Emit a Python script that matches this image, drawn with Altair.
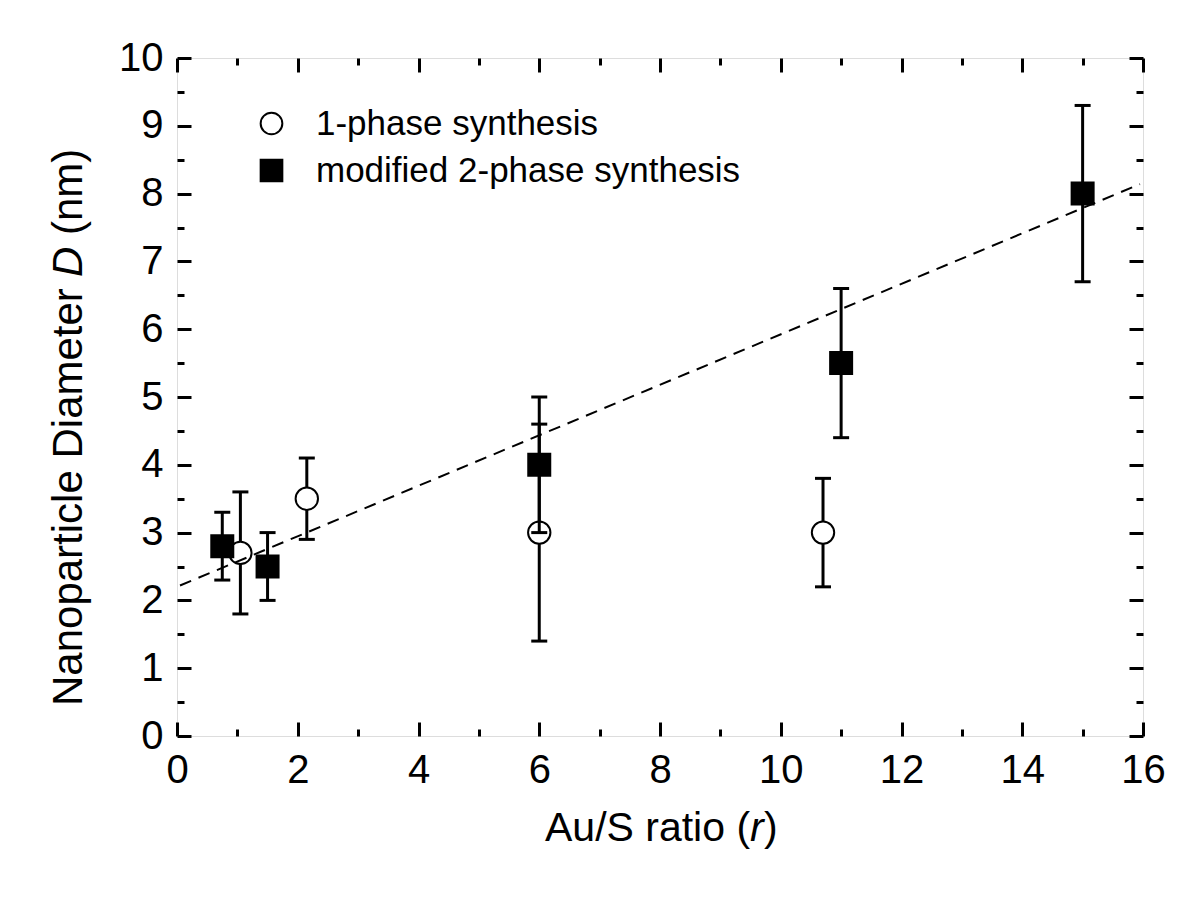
import altair as alt
import pandas as pd

# ---------------- data ----------------
series_names = ["1-phase synthesis", "modified 2-phase synthesis"]

one_x = [1.05, 2.15, 6.0, 10.7]
one_y = [2.7, 3.5, 3.0, 3.0]
one_lo = [1.8, 2.9, 1.4, 2.2]
one_hi = [3.6, 4.1, 4.6, 3.8]

two_x = [0.75, 1.5, 6.0, 11.0, 15.0]
two_y = [2.8, 2.5, 4.0, 5.5, 8.0]
two_lo = [2.3, 2.0, 3.0, 4.4, 6.7]
two_hi = [3.3, 3.0, 5.0, 6.6, 9.3]

fit_x = [0.05, 15.95]
fit_y = [2.22, 8.14]

x_major = [0, 2, 4, 6, 8, 10, 12, 14, 16]
x_minor = [1, 3, 5, 7, 9, 11, 13, 15]
y_major = [0, 1, 2, 3, 4, 5, 6, 7, 8, 9, 10]
y_minor = [0.5, 1.5, 2.5, 3.5, 4.5, 5.5, 6.5, 7.5, 8.5, 9.5]

x_title_parts = ["Au/S ratio (", "r", ")"]
y_title_parts = ["Nanoparticle Diameter", "D", "(nm)"]

# ---------------- layout ----------------
W, H = 966, 678
FONT = "Arial, 'Liberation Sans', Helvetica, sans-serif"

one_df = pd.DataFrame({"x": one_x, "y": one_y, "lo": one_lo, "hi": one_hi,
                       "series": series_names[0]})
two_df = pd.DataFrame({"x": two_x, "y": two_y, "lo": two_lo, "hi": two_hi,
                       "series": series_names[1]})
fit_df = pd.DataFrame({"x": fit_x, "y": fit_y})

xs = alt.Scale(domain=[0, 16], nice=False, zero=False)
ys = alt.Scale(domain=[0, 10], nice=False, zero=False)
shape_scale = alt.Scale(domain=series_names, range=["circle", "square"])
fill_scale = alt.Scale(domain=series_names, range=["white", "black"])
stroke_scale = alt.Scale(domain=series_names, range=["black", "black"])


def X(field="x", axis=None):
    return alt.X(f"{field}:Q", scale=xs, axis=axis)


def Y(field="y", axis=None):
    return alt.Y(f"{field}:Q", scale=ys, axis=axis)


def label_axis(orient, values, pad):
    return alt.Axis(orient=orient, values=values, ticks=False, tickSize=0,
                    domain=False, grid=False, title=None, format="d",
                    labelFont=FONT, labelFontSize=40, labelColor="black",
                    labelPadding=pad, labelFlush=False, labelOverlap=False)


def tick_axis(orient, offset, values, size):
    return alt.Axis(orient=orient, offset=offset, values=values, ticks=True,
                    tickSize=size, tickWidth=3, tickColor="black",
                    labels=False, domain=False, grid=False, title=None)


def axis_layer(xaxis, yaxis):
    return alt.Chart(fit_df).mark_point(opacity=0).encode(
        x=X(axis=xaxis), y=Y(axis=yaxis))


axes_layers = [
    axis_layer(label_axis("bottom", x_major, 14), label_axis("left", y_major, 14)),
    axis_layer(tick_axis("top", -H, x_major, 14), tick_axis("right", -W, y_major, 14)),
    axis_layer(tick_axis("bottom", -H, x_major, 14), tick_axis("left", -W, y_major, 14)),
    axis_layer(tick_axis("top", -H, x_minor, 7), tick_axis("right", -W, y_minor, 7)),
    axis_layer(tick_axis("bottom", -H, x_minor, 7), tick_axis("left", -W, y_minor, 7)),
]


def errbars(df):
    bars = alt.Chart(df).mark_rule(strokeWidth=3, color="black").encode(
        x=X(), y=Y("lo"), y2="hi:Q")
    caps = alt.Chart(df).transform_fold(["lo", "hi"], as_=["k", "v"]).mark_rule(
        strokeWidth=3, color="black", xOffset=-8, x2Offset=8).encode(
        x=X(), x2="x:Q", y=Y("v"))
    return bars, caps


legend = alt.Legend(title=None, orient="none", legendX=77, legendY=48,
                    labelFont=FONT, labelFontSize=35, labelColor="black",
                    labelLimit=0, labelOffset=27, rowPadding=11, padding=0,
                    symbolSize=470, symbolStrokeColor="black",
                    symbolStrokeWidth=2, symbolOpacity=1)


def markers(df, size):
    return alt.Chart(df).mark_point(filled=True, strokeWidth=2,
                                    opacity=1, size=size).encode(
        x=X(), y=Y(),
        shape=alt.Shape("series:N", scale=shape_scale, legend=legend),
        fill=alt.Fill("series:N", scale=fill_scale, legend=legend),
        stroke=alt.Stroke("series:N", scale=stroke_scale, legend=legend))


c_bars, c_caps = errbars(one_df)
s_bars, s_caps = errbars(two_df)

fit_line = alt.Chart(fit_df).mark_line(color="black", strokeWidth=2,
                                       strokeDash=[12, 8]).encode(x=X(), y=Y())


# axis titles (mixed upright / italic pieces)
def text_piece(txt, x, y, italic=False, angle=0, size=41):
    return alt.Chart(pd.DataFrame({"t": [txt]})).mark_text(
        font=FONT, fontSize=size, fontStyle="italic" if italic else "normal",
        align="left", baseline="alphabetic", angle=angle, color="black").encode(
        text="t:N", x=alt.value(x), y=alt.value(y))


xt = [text_piece(x_title_parts[0], 368, 783),
      text_piece(x_title_parts[1], 573, 783, italic=True),
      text_piece(x_title_parts[2], 587, 783)]
yt = [text_piece(y_title_parts[0], -95, 648, angle=270, size=42),
      text_piece(y_title_parts[1], -95, 219, italic=True, angle=270, size=42),
      text_piece(y_title_parts[2], -95, 177, angle=270, size=42)]

chart = alt.layer(
    *axes_layers,
    c_bars, c_caps, markers(one_df, 500),
    fit_line,
    s_bars, s_caps, markers(two_df, 484),
    *xt, *yt,
).resolve_axis(x="independent", y="independent").properties(
    width=W, height=H,
    autosize=alt.AutoSizeParams(type="none"),
    padding={"left": 169, "top": 50, "right": 40, "bottom": 130},
).configure_view(stroke="black", strokeWidth=3).configure(background="white")

chart.save("out.html", embed_options={"renderer": "svg", "actions": False})
